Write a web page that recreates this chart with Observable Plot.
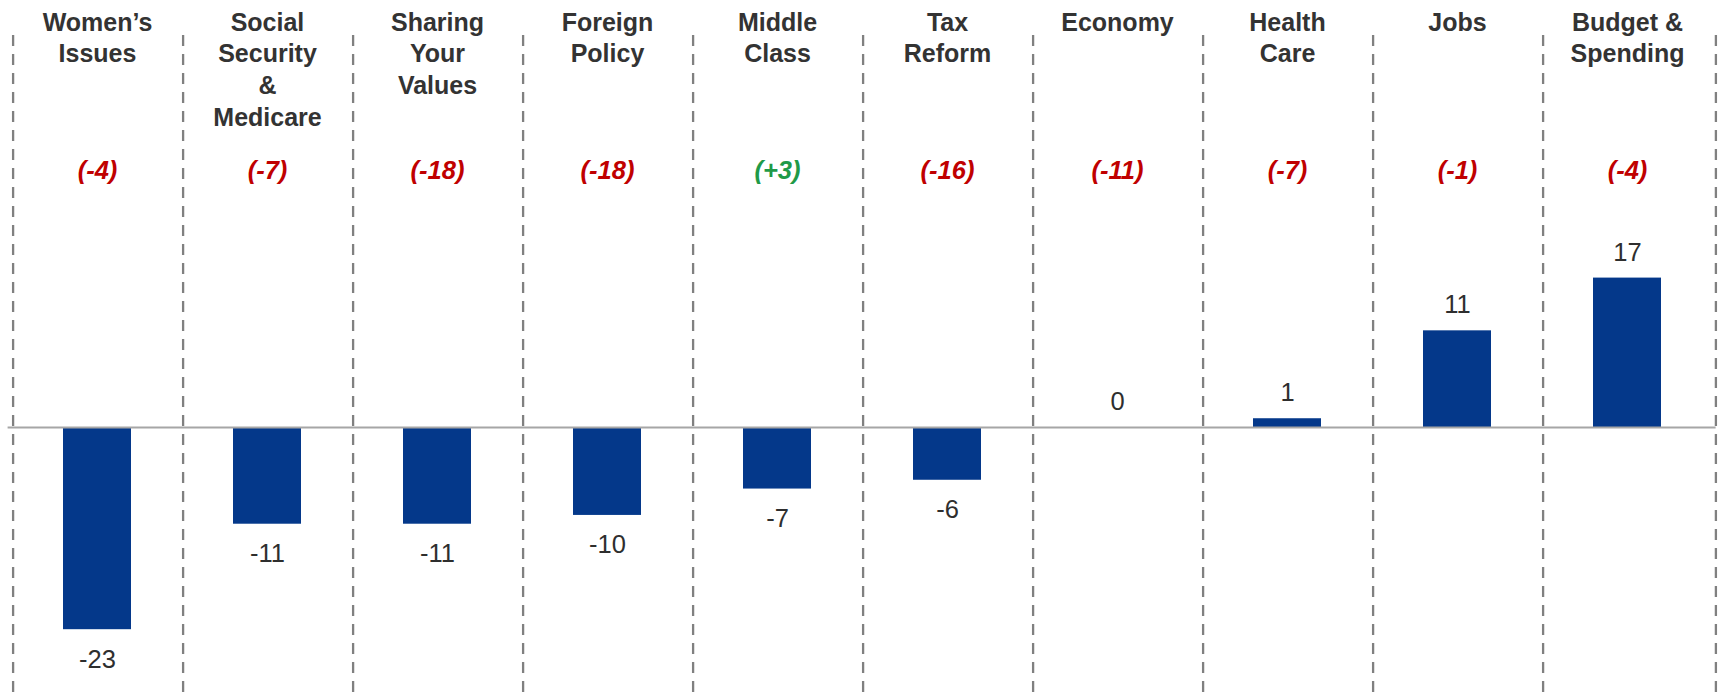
<!DOCTYPE html>
<html>
<head>
<meta charset="utf-8">
<script src="https://cdn.jsdelivr.net/npm/d3@7"></script>
<script src="https://cdn.jsdelivr.net/npm/@observablehq/plot@0.6"></script>
<style>
  html, body { margin: 0; padding: 0; background: #fff; }
  #chart svg { display: block; }
</style>
</head>
<body>
<div id="chart"></div>
<script>
// ---- Data ----
const categories = [
  "Women\u2019s\nIssues",
  "Social\nSecurity\n&\nMedicare",
  "Sharing\nYour\nValues",
  "Foreign\nPolicy",
  "Middle\nClass",
  "Tax\nReform",
  "Economy",
  "Health\nCare",
  "Jobs",
  "Budget &\nSpending"
];
const values = [-23, -11, -11, -10, -7, -6, 0, 1, 11, 17];
const changes = [-4, -7, -18, -18, 3, -16, -11, -7, -1, -4];

// ---- Table built from the arrays ----
const data = categories.map((c, i) => ({
  category: c,
  value: values[i],
  label: String(values[i]),
  change: changes[i],
  changeLabel: "(" + (changes[i] > 0 ? "+" : "") + changes[i] + ")"
}));

// ---- Layout ----
const W = 1721, H = 696;
const mLeft = 7.6, mRight = 5.4;
const step = (W - mLeft - mRight) / categories.length;
const font = "'Liberation Sans', Arial, Helvetica, sans-serif";
const red = "#c00000", green = "#1f9a48", blue = "#04388a";

const chart = Plot.plot({
  width: W,
  height: H,
  marginLeft: mLeft,
  marginRight: mRight,
  marginTop: 0,
  marginBottom: 0,
  style: { fontFamily: font, background: "#fff" },
  x: { type: "band", domain: categories, paddingInner: 0.6, paddingOuter: 0.3, axis: null },
  y: { domain: [-30.6, 48.58], axis: null },
  marks: [
    // dashed separators
    Plot.ruleX(categories, { x: d => d, dx: -step / 2 + 1, insetTop: 35, stroke: "#808080", strokeWidth: 2.3, strokeDasharray: "11,8" }),
    Plot.ruleX(categories.slice(-1), { x: d => d, dx: step / 2 + 3, insetTop: 35, stroke: "#808080", strokeWidth: 2.3, strokeDasharray: "11,8" }),
    // bars
    Plot.barY(data, { x: "category", y: "value", fill: blue }),
    // zero line
    Plot.ruleY([0], { stroke: "#a6a6a6", strokeWidth: 2 }),
    // value labels
    Plot.text(data.filter(d => d.value >= 0), {
      x: "category", y: "value", text: "label", lineAnchor: "bottom", dy: -17.5,
      fontSize: 25.5, fill: "#2e2e2e"
    }),
    Plot.text(data.filter(d => d.value < 0), {
      x: "category", y: "value", text: "label", lineAnchor: "bottom", dy: 38,
      fontSize: 25.5, fill: "#2e2e2e"
    }),
    // category titles
    Plot.text(data, {
      x: "category", text: "category", frameAnchor: "top", lineAnchor: "top", dy: 7.5,
      lineHeight: 1.267, fontSize: 25, fontWeight: "bold", fill: "#333"
    }),
    // change labels
    Plot.text(data, {
      x: "category", text: "changeLabel", frameAnchor: "top", lineAnchor: "bottom", dy: 178,
      fontSize: 25.5, fontWeight: "bold", fontStyle: "italic",
      fill: d => d.change > 0 ? green : red
    })
  ]
});
document.getElementById("chart").appendChild(chart);
</script>
</body>
</html>
